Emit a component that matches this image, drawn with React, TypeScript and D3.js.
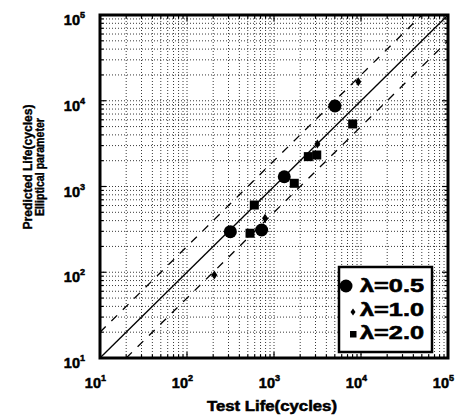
import React from "react";
import * as d3 from "d3";

// lambda = 0.5 (circles)
const circleX = [315, 721, 1312, 5020];
const circleY = [297, 311, 1300, 8690];
// lambda = 1.0 (diamonds)
const diamondX = [206, 789, 3150, 9310];
const diamondY = [93, 426, 3130, 16700];
// lambda = 2.0 (squares)
const squareX = [530, 594, 1710, 2480, 3100, 8020];
const squareY = [285, 608, 1090, 2230, 2330, 5360];

const decades = [1, 2, 3, 4, 5];
const legendLabels = ["\u03bb=0.5", "\u03bb=1.0", "\u03bb=2.0"];

const W = 471;
const H = 418;
const left = 100;
const right = 448;
const top = 15;
const bottom = 358;
const font = "'Liberation Sans', Arial, sans-serif";

const App = () => {
  const x = d3.scaleLog().domain([10, 1e5]).range([left, right]);
  const y = d3.scaleLog().domain([10, 1e5]).range([bottom, top]);

  // every minor + major value for the grid
  const gridVals: number[] = [];
  for (let e = 1; e <= 4; e++) {
    for (let m = 1; m <= 9; m++) gridVals.push(m * Math.pow(10, e));
  }
  gridVals.push(1e5);

  const line = d3
    .line<[number, number]>()
    .x((d) => x(d[0]))
    .y((d) => y(d[1]));

  const pts = (xs: number[], ys: number[]) => xs.map((v, i) => [v, ys[i]] as [number, number]);

  const diamond = (cx: number, cy: number, w: number, h: number) =>
    `M${cx},${cy - h} L${cx + w},${cy} L${cx},${cy + h} L${cx - w},${cy} Z`;

  return (
    <svg width={W} height={H} style={{ position: "absolute", left: 0, top: 0, background: "#fff" }}>
      <defs>
        <clipPath id="plot">
          <rect x={left} y={top} width={right - left} height={bottom - top} />
        </clipPath>
      </defs>
      <rect x={0} y={0} width={W} height={H} fill="#fff" />

      {/* dotted grid */}
      <g stroke="#222" strokeWidth={0.9} strokeDasharray="1 2">
        {gridVals.map((v, i) => (
          <line key={"gx" + i} x1={x(v)} x2={x(v)} y1={top} y2={bottom} />
        ))}
        {gridVals.map((v, i) => (
          <line key={"gy" + i} x1={left} x2={right} y1={y(v)} y2={y(v)} />
        ))}
      </g>

      {/* inward ticks */}
      <g stroke="#000" strokeWidth={1.2}>
        {gridVals.map((v, i) => {
          const len = v === Math.pow(10, Math.round(Math.log10(v))) ? 6 : 3.5;
          return (
            <g key={"t" + i}>
              <line x1={left} x2={left + len} y1={y(v)} y2={y(v)} />
              <line x1={right} x2={right - len} y1={y(v)} y2={y(v)} />
              <line x1={x(v)} x2={x(v)} y1={bottom} y2={bottom - len} />
              <line x1={x(v)} x2={x(v)} y1={top} y2={top + len} />
            </g>
          );
        })}
      </g>

      {/* reference lines */}
      <g clipPath="url(#plot)" fill="none" stroke="#000">
        <path d={line([[10, 10], [1e5, 1e5]]) || ""} strokeWidth={1.3} />
        <path d={line([[10, 20], [5e4, 1e5]]) || ""} strokeWidth={1.3} strokeDasharray="8 8" />
        <path d={line([[20, 10], [1e5, 5e4]]) || ""} strokeWidth={1.3} strokeDasharray="8 8" />
      </g>

      {/* data */}
      <g fill="#000">
        {pts(circleX, circleY).map((d, i) => (
          <circle key={"c" + i} cx={x(d[0])} cy={y(d[1])} r={6.5} />
        ))}
        {pts(squareX, squareY).map((d, i) => (
          <rect key={"s" + i} x={x(d[0]) - 4.5} y={y(d[1]) - 4.5} width={9} height={9} />
        ))}
        {pts(diamondX, diamondY).map((d, i) => (
          <path key={"d" + i} d={diamond(x(d[0]), y(d[1]), 3, 4.5)} />
        ))}
      </g>

      {/* frame */}
      <rect x={left} y={top} width={right - left} height={bottom - top} fill="none" stroke="#000" strokeWidth={3} />

      {/* legend */}
      <rect x={339} y={267} width={93} height={85} fill="#fff" stroke="#000" strokeWidth={2.5} />
      <circle cx={346} cy={286} r={6.5} fill="#000" />
      <path d={diamond(353, 312, 2.5, 3.5)} fill="#000" />
      <rect x={350} y={331} width={6.5} height={6.5} fill="#000" />
      {legendLabels.map((t, i) => (
        <text key={t} x={360} y={292 + i * 23.5} fontFamily={font} fontWeight="bold" fontSize={19} stroke="#000" strokeWidth={0.6} textLength={64} lengthAdjust="spacingAndGlyphs">
          {t}
        </text>
      ))}

      {/* tick labels */}
      <g fontFamily={font} fontWeight="bold" fill="#000" stroke="#000" strokeWidth={0.5}>
        {decades.map((e) => (
          <text key={"xl" + e} x={x(Math.pow(10, e)) + 1} y={388} fontSize={14.5} textAnchor="end">
            10
          </text>
        ))}
        {decades.map((e) => (
          <text key={"xs" + e} x={x(Math.pow(10, e)) + 1} y={381} fontSize={9}>
            {e}
          </text>
        ))}
        {decades.map((e) => (
          <text key={"yl" + e} x={80} y={y(Math.pow(10, e)) + 10} fontSize={14.5} textAnchor="end">
            10
          </text>
        ))}
        {decades.map((e) => (
          <text key={"ys" + e} x={80} y={y(Math.pow(10, e)) + 3} fontSize={9}>
            {e}
          </text>
        ))}
      </g>

      {/* axis titles */}
      <text x={272} y={411} fontFamily={font} fontWeight="bold" fontSize={14} stroke="#000" strokeWidth={0.5} textAnchor="middle" textLength={130} lengthAdjust="spacingAndGlyphs">
        Test Life(cycles)
      </text>
      <g transform="translate(32,167) rotate(-90)" fontFamily={font} fontWeight="bold" fontSize={13} stroke="#000" strokeWidth={0.4} textAnchor="middle">
        <text x={0} y={0} textLength={125} lengthAdjust="spacingAndGlyphs">
          Predicted Life(cycles)
        </text>
        <text x={0} y={12} textLength={98} lengthAdjust="spacingAndGlyphs">
          Elliptical parameter
        </text>
      </g>
    </svg>
  );
};

export default App;
